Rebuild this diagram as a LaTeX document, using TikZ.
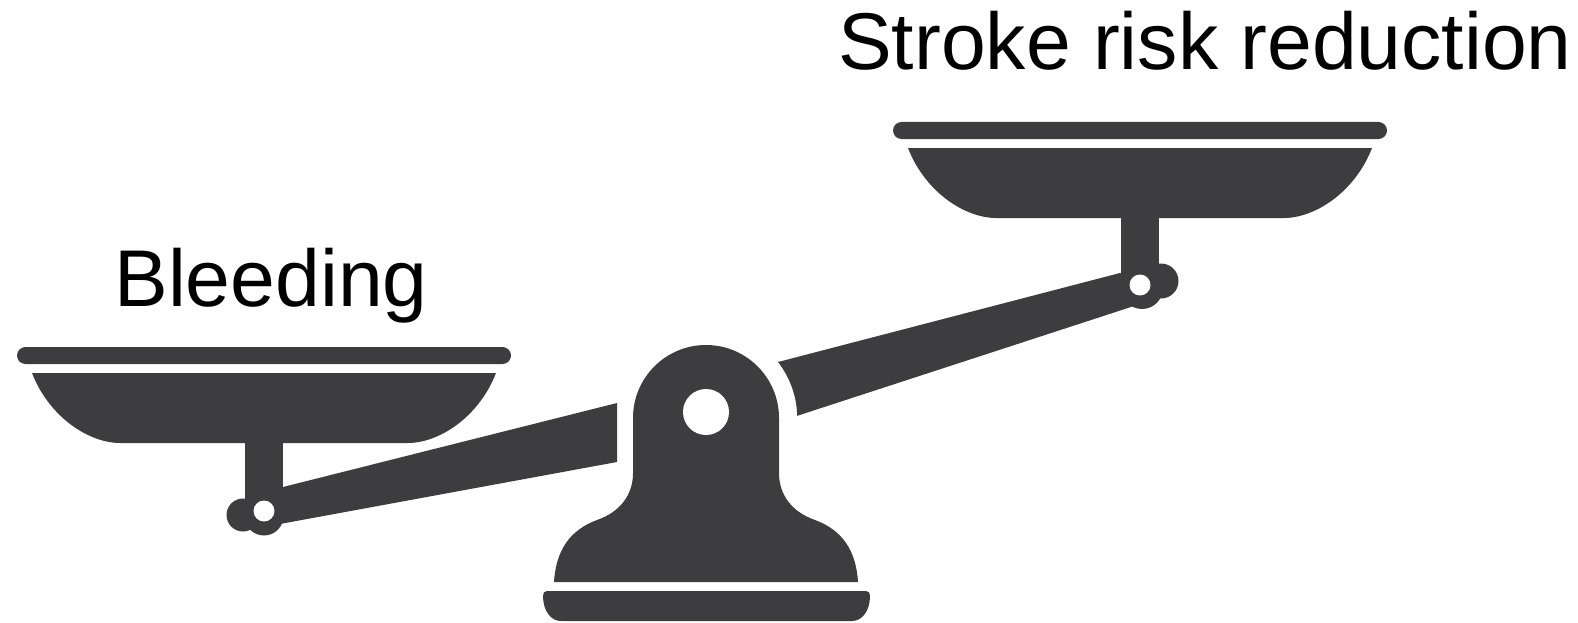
\documentclass[tikz,border=0pt]{standalone}
\usepackage{fontspec}
\setmainfont{Liberation Sans}
\definecolor{scaledark}{HTML}{3D3D3F}

\begin{document}
\begin{tikzpicture}[x=1pt, y=-1pt,
  part/.style={fill=scaledark, draw=none},
  hole/.style={fill=white, draw=none},
  caption/.style={font=\fontsize{80.5}{80.5}\selectfont, text=black, inner sep=0pt, anchor=base},
]
  \useasboundingbox (0,0) rectangle (1578,623);
  \coordinate (L) at (264,511);
  \coordinate (R) at (1140,285);
  % the two pans, each measured from its centre and the top of its bar
  \foreach \px/\py in {264/347, 1140/122} {
    \begin{scope}[shift={(\px,\py)}]
      \fill[part, rounded corners=8.5] (-247,0) rectangle (247,17);
      \fill[part] (-232,26) .. controls (-215,70) and (-175,96) .. (-144,96)
        -- (144,96) .. controls (175,96) and (215,70) .. (232,26) -- cycle;
      \fill[part] (-19,90) rectangle (19,165);
    \end{scope}
  }
  % left arm
  \fill[part] (617,403) -- (283,487) -- (265,515) -- (280,524) -- (617,462) -- cycle;
  \fill[part] (264,516) circle (19.5);
  \fill[part] (243,515) circle (16.5);
  % right arm, its end follows the stand
  \fill[part] (1120,273) -- (778,362) arc[start angle=-37.9, end angle=-1.3, radius=91]
    -- (1134,306) -- (1140,285) -- cycle;
  \fill[part] (1142,288) circle (21);
  \fill[part] (1161,281) circle (17.5);
  \foreach \pt in {L,R} \fill[hole] (\pt) circle (10.5);
  % stand
  \fill[part] (554,582) .. controls (556,550) and (570,530) .. (597,520)
    .. controls (620,512) and (633,495) .. (633,473) -- (633,418)
    arc[start angle=180, end angle=360, radius=73] -- (779,473)
    .. controls (779,495) and (792,512) .. (815,520)
    .. controls (842,530) and (856,550) .. (858,582) -- cycle;
  \fill[hole] (706,412) circle (23);
  \fill[part] (543,596) .. controls (543,593) and (544,591) .. (547,591) -- (866,591)
    .. controls (869,591) and (870,593) .. (870,596)
    .. controls (870,611) and (862,621) .. (852,621) -- (561,621)
    .. controls (551,621) and (543,611) .. (543,596) -- cycle;
  \node[caption] (bleeding) at (271,306) {Bleeding};
  \node[caption] (stroke) at (1205,70) {Stroke risk reduction};
\end{tikzpicture}
\end{document}
